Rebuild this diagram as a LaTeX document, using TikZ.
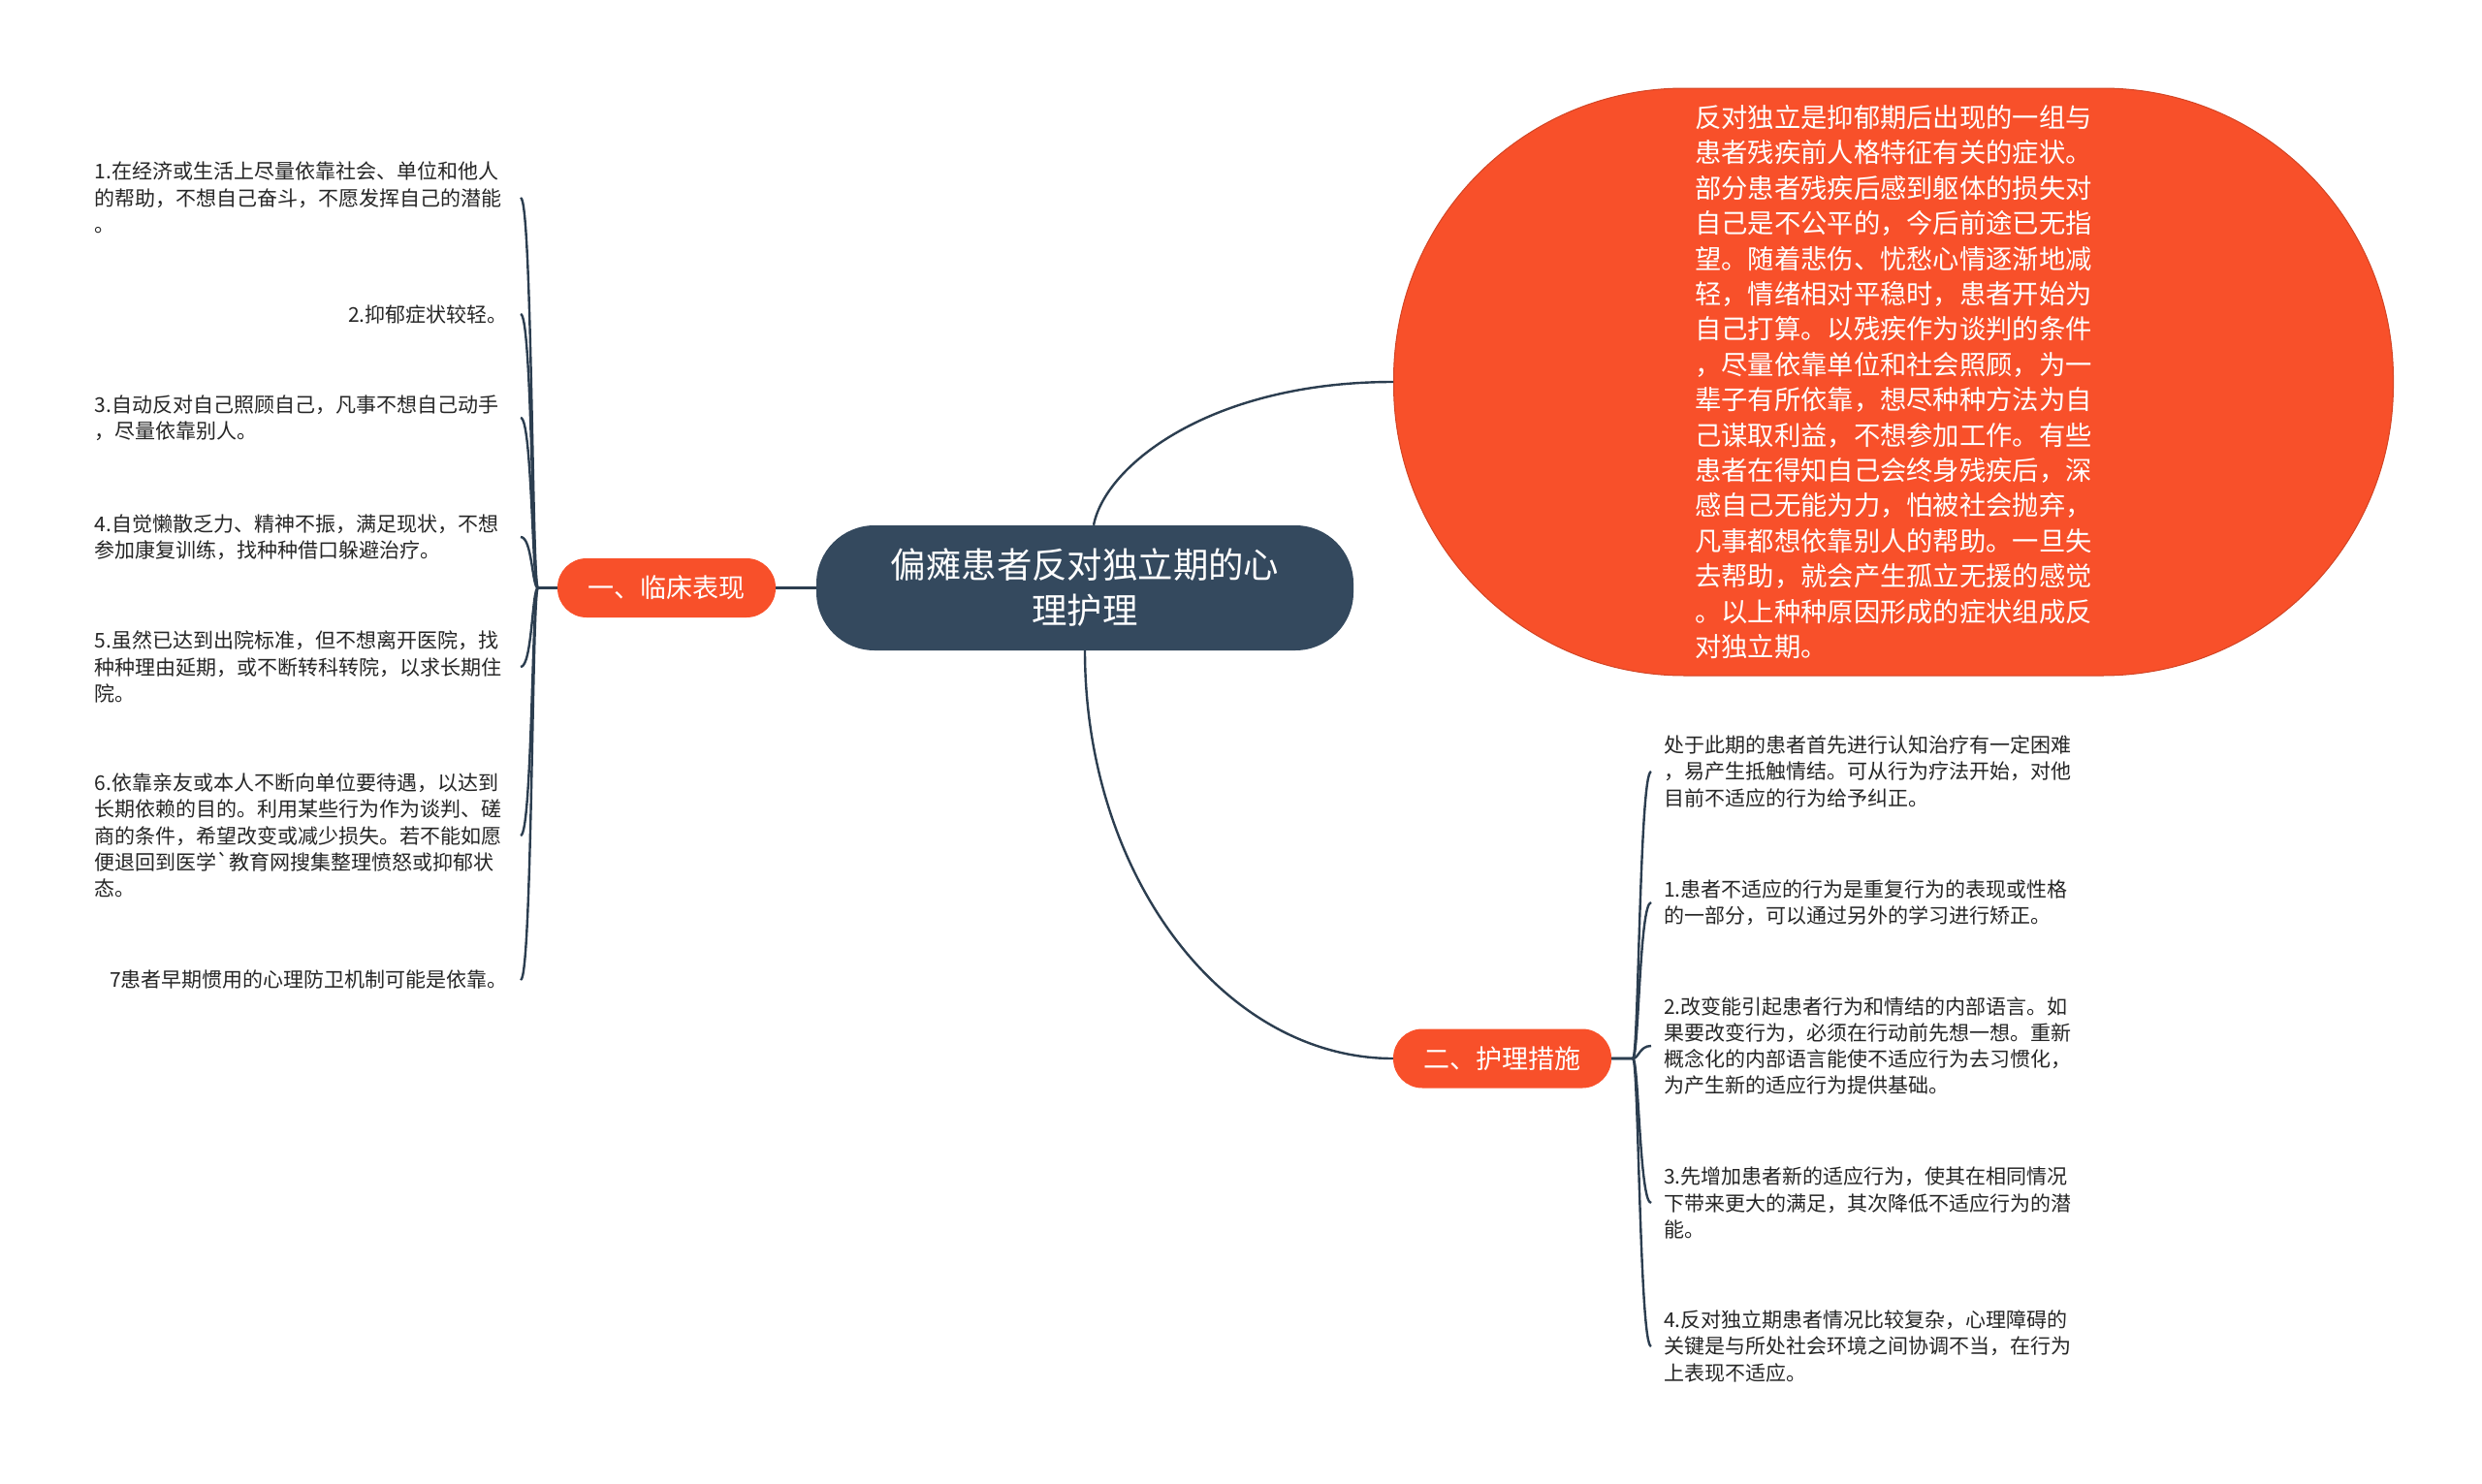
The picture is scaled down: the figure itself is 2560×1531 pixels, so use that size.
\documentclass[tikz,border=0pt]{standalone}
\usepackage{fontspec}
\setmainfont{Noto Sans CJK SC}[Ligatures=TeXOff]

\definecolor{slate}{HTML}{34495E}
\definecolor{accent}{HTML}{F8502A}
\definecolor{wirecol}{HTML}{2C3E50}

\tikzset{
	root/.style={shape=rectangle, rounded corners=60pt, fill=slate,
		text=white, minimum width=554pt, minimum height=129pt,
		align=center, font=\fontsize{36.4}{47}\selectfont},
	branch/.style={shape=rectangle, rounded corners=30pt, fill=accent,
		text=white, minimum width=225pt, minimum height=61pt,
		font=\fontsize{27}{35}\selectfont},
	note/.style={shape=rectangle, rounded corners=300pt, fill=accent,
		draw=accent!85!black, line width=1pt, text=white,
		minimum width=1031pt, minimum height=606pt, align=left,
		font=\fontsize{27.3}{36.4}\selectfont},
	leaf/.style={text width=426pt, inner xsep=13pt, inner ysep=0pt,
		align=left, text=black!85, font=\fontsize{21}{27.3}\selectfont},
	wire/.style={draw=wirecol, line width=2.4pt}
}

\begin{document}
\begin{tikzpicture}[x=1pt, y=-1pt]
	\fill[white] (0, 0) rectangle (2560, 1531);
	
	% Root and the two main branches:
	\node[root] (M) at (1119, 606.5){偏瘫患者反对独立期的心\\理护理};
	\node[branch] (B1) at (687.5, 606.5){一、临床表现};
	\node[branch] (B2) at (1549.5, 1092){二、护理措施};
	
	% Big rounded note top right
	\node[note] (T) at (1953, 394){反对独立是抑郁期后出现的一组与\\
		患者残疾前人格特征有关的症状。\\
		部分患者残疾后感到躯体的损失对\\
		自己是不公平的，今后前途已无指\\
		望。随着悲伤、忧愁心情逐渐地减\\
		轻，情绪相对平稳时，患者开始为\\
		自己打算。以残疾作为谈判的条件\\
		，尽量依靠单位和社会照顾，为一\\
		辈子有所依靠，想尽种种方法为自\\
		己谋取利益，不想参加工作。有些\\
		患者在得知自己会终身残疾后，深\\
		感自己无能为力，怕被社会抛弃，\\
		凡事都想依靠别人的帮助。一旦失\\
		去帮助，就会产生孤立无援的感觉\\
		。以上种种原因形成的症状组成反\\
		对独立期。};
	
	% Left leaves (clinical signs)
	\node[leaf, anchor=east] (L1) at (537, 204){1.在经济或生活上尽量依靠社会、单位和他人\\
		的帮助，不想自己奋斗，不愿发挥自己的潜能\\。};
	\node[leaf, anchor=east, align=right] (L2) at (537, 324){2.抑郁症状较轻。};
	\node[leaf, anchor=east] (L3) at (537, 431){3.自动反对自己照顾自己，凡事不想自己动手\\
		，尽量依靠别人。};
	\node[leaf, anchor=east] (L4) at (537, 554){4.自觉懒散乏力、精神不振，满足现状，不想\\
		参加康复训练，找种种借口躲避治疗。};
	\node[leaf, anchor=east] (L5) at (537, 688){5.虽然已达到出院标准，但不想离开医院，找\\
		种种理由延期，或不断转科转院，以求长期住\\院。};
	\node[leaf, anchor=east] (L6) at (537, 862){6.依靠亲友或本人不断向单位要待遇，以达到\\
		长期依赖的目的。利用某些行为作为谈判、磋\\
		商的条件，希望改变或减少损失。若不能如愿\\
		便退回到医学`教育网搜集整理愤怒或抑郁状\\态。};
	\node[leaf, anchor=east, align=right] (L7) at (537, 1011){7患者早期惯用的心理防卫机制可能是依靠。};
	
	% Right leaves (nursing measures)
	\node[leaf, anchor=west] (R0) at (1703, 796){处于此期的患者首先进行认知治疗有一定困难\\
		，易产生抵触情结。可从行为疗法开始，对他\\
		目前不适应的行为给予纠正。};
	\node[leaf, anchor=west] (R1) at (1703, 931){1.患者不适应的行为是重复行为的表现或性格\\
		的一部分，可以通过另外的学习进行矫正。};
	\node[leaf, anchor=west] (R2) at (1703, 1079){2.改变能引起患者行为和情结的内部语言。如\\
		果要改变行为，必须在行动前先想一想。重新\\
		概念化的内部语言能使不适应行为去习惯化，\\
		为产生新的适应行为提供基础。};
	\node[leaf, anchor=west] (R3) at (1703, 1241){3.先增加患者新的适应行为，使其在相同情况\\
		下带来更大的满足，其次降低不适应行为的潜\\能。};
	\node[leaf, anchor=west] (R4) at (1703, 1389){4.反对独立期患者情况比较复杂，心理障碍的\\
		关键是与所处社会环境之间协调不当，在行为\\
		上表现不适应。};
	
	% Connectors from the root
	\draw[wire] (M.west) -- (B1.east);
	\draw[wire] ([xshift=9pt]M.north) .. controls +(12, -62) and +(-188, 0) .. (T.west);
	\draw[wire] (M.south) .. controls +(0, 232) and +(-175, 0) .. (B2.west);
	
	% Fans to the leaves
	\foreach \n in {1,...,7}
		\draw[wire] (B1.west) -- ++(-20, 0) .. controls +(-6, 0) and +(12, 0) .. (L\n.east);
	\foreach \n in {0,...,4}
		\draw[wire] (B2.east) -- ++(22, 0) .. controls +(6, 0) and +(-12, 0) .. (R\n.west);
\end{tikzpicture}
\end{document}
